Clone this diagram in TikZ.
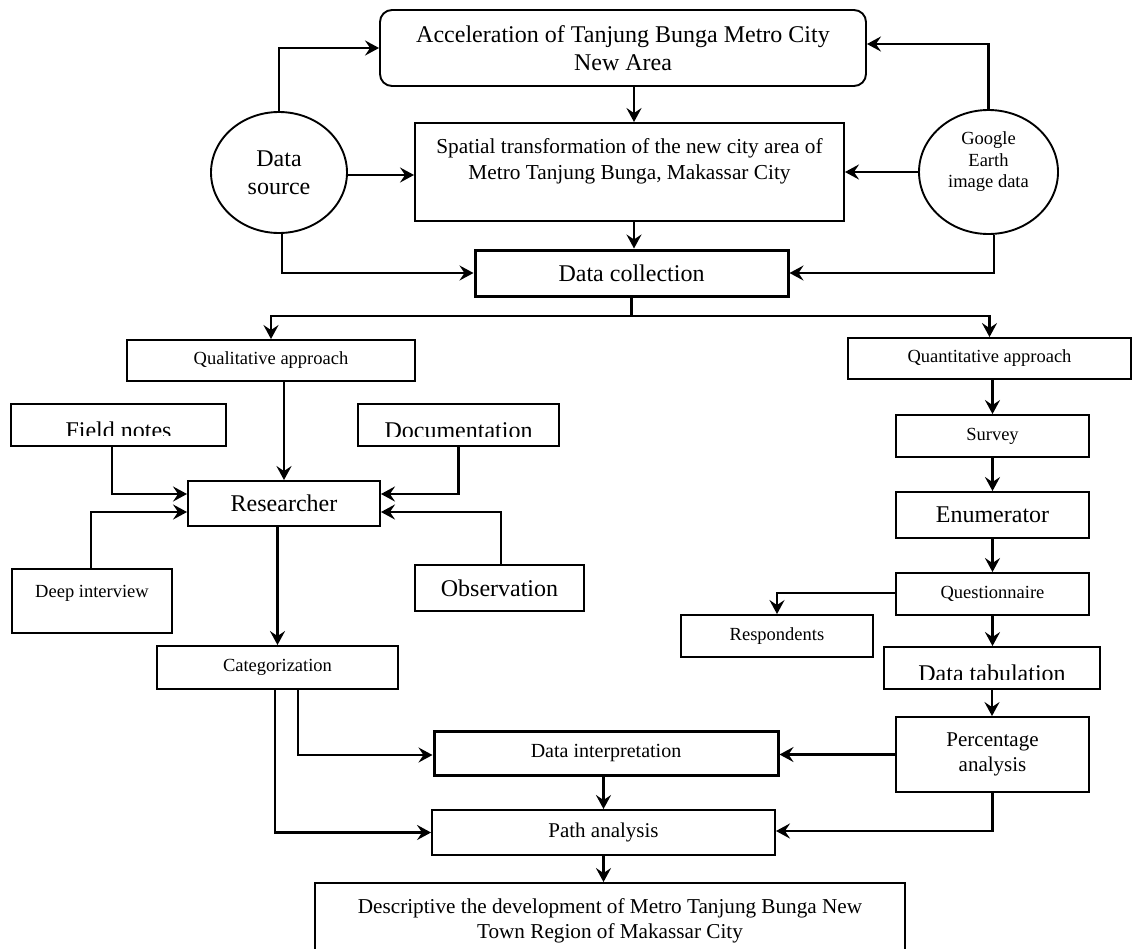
\documentclass[tikz,border=0pt]{standalone}
\usepackage{fontspec}
\setmainfont{Liberation Serif}
\usetikzlibrary{arrows.meta,shapes.geometric}
\begin{document}
\begin{tikzpicture}[x=1pt,y=-1pt,
  box/.style={draw, line width=1.9pt, inner sep=0pt, align=center, rectangle},
  thickbox/.style={box, line width=3pt},
  oval/.style={draw, ellipse, line width=1.9pt, inner sep=0pt, align=center},
  big/.style={font=\fontsize{24}{28}\selectfont},
  small/.style={font=\fontsize{18.5}{21.5}\selectfont},
  arr/.style={draw, line width=2.2pt, -{Stealth[length=14pt,width=15pt,inset=5pt]}},
  conn/.style={draw, line width=2.2pt},
  txt/.style={inner sep=0pt, align=center}
]
\useasboundingbox (0,0) rectangle (1132,948);
\fill[white] (0,0) rectangle (1132,948);
\clip (0,0) rectangle (1132,948);

% ---------- top part ----------
\node[box, rounded corners=12pt, big, minimum width=486pt, minimum height=76pt] (top) at (623,48)
  {Acceleration of Tanjung Bunga Metro City\\New Area};
\node[box, minimum width=429pt, minimum height=98pt] (spatial) at (629.5,172) {};
\node[txt, font=\fontsize{21.3}{26}\selectfont] (spatialtext) at (629.5,161)
  {Spatial transformation of the new city area of\\Metro Tanjung Bunga, Makassar City};
\node[thickbox, big, minimum width=313pt, minimum height=46pt] (collect) at (631.5,273) {Data collection};
\node[oval, big, minimum width=136pt, minimum height=121pt] (dsrc) at (279,172.5) {Data\\source};
\node[oval, minimum width=139pt, minimum height=124pt] (google) at (988.5,172) {};
\node[txt, small] (googletext) at (988.5,162) {Google\\Earth\\image data};

% ---------- qualitative side ----------
\node[box, small, minimum width=288pt, minimum height=41pt] (qual) at (271,360.5) {Qualitative approach};
\node[box, minimum width=215pt, minimum height=42pt] (field) at (118.5,425) {};
\begin{scope}
  \clip (11,404) rectangle (226,435.5);
  \node[txt, big, anchor=base] (fieldtext) at (118.5,438) {Field notes};
\end{scope}
\node[box, minimum width=201pt, minimum height=42pt] (doc) at (458.5,425) {};
\begin{scope}
  \clip (358,404) rectangle (559,436);
  \node[txt, big, anchor=base] (doctext) at (458.5,438.5) {Documentation};
\end{scope}
\node[box, big, minimum width=192pt, minimum height=45pt] (res) at (284,503.5) {Researcher};
\node[box, minimum width=160pt, minimum height=64pt] (deep) at (92,601) {};
\node[txt, small] (deeptext) at (92,593.5) {Deep interview};
\node[box, big, minimum width=169pt, minimum height=46pt] (obs) at (499.5,588) {Observation};
\node[box, small, minimum width=241pt, minimum height=43pt] (cat) at (277.5,667.5) {Categorization};

% ---------- quantitative side ----------
\node[box, small, minimum width=283pt, minimum height=41pt] (quant) at (989.5,358.5) {Quantitative approach};
\node[box, small, minimum width=193pt, minimum height=42pt] (survey) at (992.5,436) {Survey};
\node[box, big, minimum width=193pt, minimum height=46pt] (enum) at (992.5,515) {Enumerator};
\node[box, small, minimum width=193pt, minimum height=42pt] (quest) at (992.5,594) {Questionnaire};
\node[box, small, minimum width=192pt, minimum height=42pt] (resp) at (777,636) {Respondents};
\node[box, minimum width=216pt, minimum height=42pt] (tab) at (992,668) {};
\begin{scope}
  \clip (884,647) rectangle (1100,679);
  \node[txt, big, anchor=base] (tabtext) at (992,681) {Data tabulation};
\end{scope}
\node[box, font=\fontsize{21}{25}\selectfont, minimum width=193pt, minimum height=75pt] (perc) at (992.5,754.5) {Percentage\\analysis};

% ---------- bottom ----------
\node[thickbox, font=\fontsize{20}{24}\selectfont, minimum width=344pt, minimum height=44pt] (interp) at (606,753) {Data interpretation};
\node[box, font=\fontsize{21}{25}\selectfont, minimum width=343pt, minimum height=45pt] (path) at (603.5,832.5) {Path analysis};
\node[box, minimum width=590pt, minimum height=92pt] (final) at (610,929) {};
\node[txt, font=\fontsize{21.2}{25}\selectfont] (finaltext) at (610,920.5)
  {Descriptive the development of Metro Tanjung Bunga New\\Town Region of Makassar City};

% ---------- connectors: top ----------
\draw[arr] (dsrc.north) |- (top.west);
\draw[arr] ([yshift=-2.5pt]dsrc.east) -- ([yshift=-2.5pt]dsrc.east -| spatial.west);
\draw[arr] ([xshift=3pt]dsrc.south) |- (collect.west);
\draw[arr] (google.north) |- ([yshift=4pt]top.east);
\draw[arr] (google.west) -- (google.west -| spatial.east);
\draw[arr] ([xshift=5.5pt]google.south) |- (collect.east);
\draw[arr] ([xshift=11pt]top.south) -- ([xshift=11pt]top.south |- spatial.north);
\draw[arr] ([xshift=4.5pt]spatial.south) -- ([xshift=4.5pt]spatial.south |- collect.north);

\coordinate (split) at (631.5,316);
\draw[conn] (collect.south) -- (split);
\draw[arr] (split) -| (qual.north);
\draw[arr] (split) -| (quant.north);

% ---------- connectors: qualitative ----------
\draw[arr] (res.north |- qual.south) -- (res.north);
\draw[arr] ([xshift=-6.5pt]field.south) |- ([yshift=9.5pt]res.west);
\draw[arr] ([xshift=-1pt]deep.north) |- ([yshift=-8.5pt]res.west);
\draw[arr] (doc.south) |- ([yshift=9.5pt]res.east);
\draw[arr] ([xshift=1.5pt]obs.north) |- ([yshift=-8.5pt]res.east);
\draw[arr] (cat.north |- res.south) -- (cat.north);
\draw[arr] ([xshift=-2.5pt]cat.south) |- (path.west);
\draw[arr] ([xshift=20.5pt]cat.south) |- ([yshift=-2pt]interp.west);

% ---------- connectors: quantitative ----------
\draw[arr] (survey.north |- quant.south) -- (survey.north);
\draw[arr] (survey.south) -- (enum.north);
\draw[arr] (enum.south) -- (quest.north);
\draw[arr] ([yshift=1pt]quest.west) -| (resp.north);
\draw[arr] (quest.south) -- (quest.south |- tab.north);
\draw[arr] (tab.south) -- (tab.south |- perc.north);
\draw[arr] (perc.west) -- (perc.west -| interp.east);
\draw[arr] (perc.south) |- ([yshift=1.5pt]path.east);

% ---------- connectors: bottom ----------
\draw[arr] (path.north |- interp.south) -- (path.north);
\draw[arr] (path.south) -- (path.south |- final.north);
\end{tikzpicture}
\end{document}
